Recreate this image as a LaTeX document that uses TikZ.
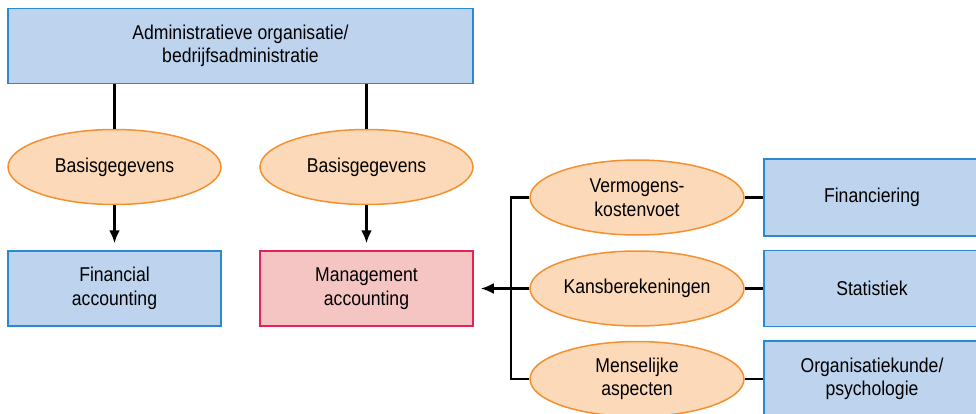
\documentclass[tikz,border=0pt]{standalone}
\usepackage{fontspec}
\setmainfont{Liberation Sans}[FakeStretch=0.88]
\usepackage{tikz}
\usetikzlibrary{arrows.meta,positioning,calc,shapes.geometric}
\definecolor{boxfill}{HTML}{BDD3EE}
\definecolor{boxline}{HTML}{2A8AD0}
\definecolor{ellfill}{HTML}{FCD9B9}
\definecolor{ellline}{HTML}{F39130}
\definecolor{mgfill}{HTML}{F5C5C3}
\definecolor{mgline}{HTML}{E5215A}

\begin{document}
\begin{tikzpicture}[x=1pt,y=-1pt,
    every node/.style={font=\fontsize{20}{23.5}\selectfont, align=center, inner sep=0pt},
    box/.style={rectangle, draw=boxline, fill=boxfill, line width=1.5pt, minimum width=213pt, minimum height=75pt},
    mbox/.style={box, draw=mgline, fill=mgfill},
    ell/.style={ellipse, draw=ellline, fill=ellfill, line width=1.5pt, minimum width=213pt, minimum height=75pt},
    link/.style={line width=2.6pt},
    arr/.style={link, -{Latex[length=13pt,width=11pt]}, shorten >=7pt}]
    \useasboundingbox (0,0) rectangle (976,414);
    % --- top ---
    \node[box, minimum width=465pt] (admin) at (240.5,46) {Administratieve organisatie/\\bedrijfsadministratie};

    % --- basisgegevens and accounting ---
    \node[ell] (bg1) at (114.5,167) {Basisgegevens};
    \node[ell] (bg2) at (366.5,167) {Basisgegevens};
    \node[box] (fin) at (114.5,288.5) {Financial\\accounting};
    \node[mbox] (mgmt) at (366.5,288.5) {Management\\accounting};
    \draw[link] (bg1.north |- admin.south) -- (bg1.north);
    \draw[link] (bg2.north |- admin.south) -- (bg2.north);
    \draw[arr] (bg1.south) -- (fin.north);
    \draw[arr] (bg2.south) -- (mgmt.north);

    % --- right side ---
    \node[ell, minimum width=214pt] (verm) at (637,197.5) {Vermogens-\\kostenvoet};
    \node[ell, minimum width=214pt] (kans) at (637,288.5) {Kansberekeningen};
    \node[ell, minimum width=214pt] (mens) at (637,379) {Menselijke\\aspecten};
    \node[box, minimum width=216pt, minimum height=77pt] (finc) at (872,197.5) {Financiering};
    \node[box, minimum width=216pt, minimum height=76pt] (stat) at (872,288.5) {Statistiek};
    \node[box, minimum width=216pt, minimum height=76pt] (org) at (872,379) {Organisatiekunde/\\psychologie};
    \coordinate (jn) at (511,288.5);
    \draw[link] (verm.west) -| (jn) |- (mens.west);
    \draw[arr] (kans.west) -- (mgmt.east);
    \draw[link] (verm.east) -- (finc.west);
    \draw[link] (kans.east) -- (stat.west);
    \draw[link] (mens.east) -- (org.west);
\end{tikzpicture}
\end{document}
